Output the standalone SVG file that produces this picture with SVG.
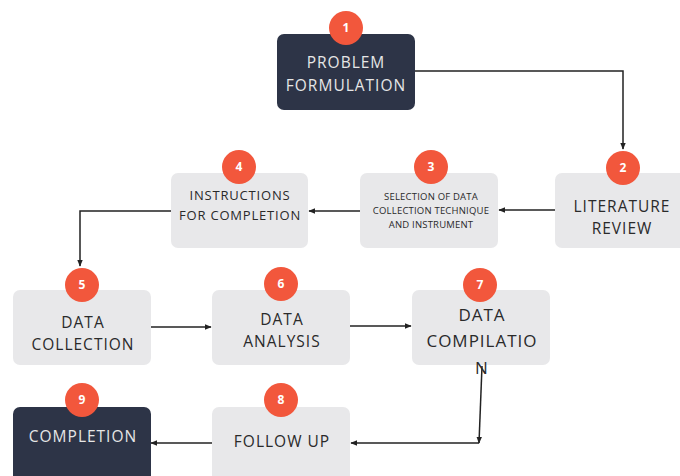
<svg xmlns="http://www.w3.org/2000/svg" width="680" height="476" viewBox="0 0 680 476">
<defs>
<marker id="ah" viewBox="0 0 10 10" refX="9" refY="5" markerWidth="7" markerHeight="7" orient="auto-start-reverse" markerUnits="userSpaceOnUse">
<path d="M0,1 L10,5 L0,9 Z" fill="#222"/>
</marker>
<style>
.lb{fill:#e8e8ea}
.dk{fill:#2d3447}
.bd{fill:#f2573c}
.num{font-family:"Open Sans","DejaVu Sans",sans-serif;font-size:12px;font-weight:bold;fill:#fff;text-anchor:middle}
.t{font-family:"Open Sans","DejaVu Sans",sans-serif;font-size:15.5px;letter-spacing:1px;fill:#2a2a2a;text-anchor:middle}
.tl{font-family:"Open Sans","DejaVu Sans",sans-serif;font-size:15.5px;letter-spacing:1px;fill:#e6e6e6;text-anchor:middle}
.ts{font-family:"Open Sans","DejaVu Sans",sans-serif;font-size:9.5px;letter-spacing:0.2px;fill:#2a2a2a;text-anchor:middle}
.tm{font-family:"Open Sans","DejaVu Sans",sans-serif;font-size:13px;letter-spacing:0.8px;fill:#2a2a2a;text-anchor:middle}
.c{fill:none;stroke:#222;stroke-width:1.5}
</style>
</defs>
<rect width="680" height="476" fill="#fff"/>
<g id="connectors">
<path class="c" d="M415,71 H623 V149" marker-end="url(#ah)"/>
<path class="c" d="M555,210 H499" marker-end="url(#ah)"/>
<path class="c" d="M360,211 H309" marker-end="url(#ah)"/>
<path class="c" d="M171,211 H80 V266" marker-end="url(#ah)"/>
<path class="c" d="M151,327 H211" marker-end="url(#ah)"/>
<path class="c" d="M350,326 H411" marker-end="url(#ah)"/>
<path class="c" d="M482,366 L479,443" marker-end="url(#ah)"/>
<path class="c" d="M479,443 H351" marker-end="url(#ah)"/>
<path class="c" d="M212,443 H151" marker-end="url(#ah)"/>
</g>
<g id="node1">
<rect class="dk" x="277" y="34" width="138" height="76" rx="7"/>
<text class="tl" x="346" y="68">PROBLEM</text>
<text class="tl" x="346" y="91">FORMULATION</text>
<circle class="bd" cx="346" cy="28" r="17"/>
<text class="num" x="346" y="32">1</text>
</g>
<g id="node2">
<rect class="lb" x="555" y="173" width="135" height="75" rx="7"/>
<text class="t" x="622" y="212">LITERATURE</text>
<text class="t" x="622" y="234">REVIEW</text>
<circle class="bd" cx="623" cy="168" r="17"/>
<text class="num" x="623" y="172">2</text>
</g>
<g id="node3">
<rect class="lb" x="360" y="173" width="138" height="75" rx="7"/>
<text class="ts" x="431" y="200">SELECTION OF DATA</text>
<text class="ts" x="431" y="214">COLLECTION TECHNIQUE</text>
<text class="ts" x="431" y="228">AND INSTRUMENT</text>
<circle class="bd" cx="431" cy="167" r="17"/>
<text class="num" x="431" y="171">3</text>
</g>
<g id="node4">
<rect class="lb" x="171" y="173" width="137" height="75" rx="7"/>
<text class="tm" x="240" y="200">INSTRUCTIONS</text>
<text class="tm" x="240" y="220">FOR COMPLETION</text>
<circle class="bd" cx="239" cy="167" r="17"/>
<text class="num" x="239" y="171">4</text>
</g>
<g id="node5">
<rect class="lb" x="13" y="290" width="138" height="75" rx="7"/>
<text class="t" x="83" y="328">DATA</text>
<text class="t" x="83" y="350">COLLECTION</text>
<circle class="bd" cx="82" cy="285" r="17"/>
<text class="num" x="82" y="289">5</text>
</g>
<g id="node6">
<rect class="lb" x="212" y="290" width="138" height="75" rx="7"/>
<text class="t" x="282" y="325">DATA</text>
<text class="t" x="282" y="347">ANALYSIS</text>
<circle class="bd" cx="281" cy="284" r="17"/>
<text class="num" x="281" y="288">6</text>
</g>
<g id="node7">
<rect class="lb" x="412" y="290" width="138" height="75" rx="7"/>
<text class="t" x="482" y="321" style="font-size:17px">DATA</text>
<text class="t" x="482" y="347" style="font-size:17px">COMPILATIO</text>
<text class="t" x="482" y="374" style="font-size:17px">N</text>
<circle class="bd" cx="480" cy="285" r="17"/>
<text class="num" x="480" y="289">7</text>
</g>
<g id="node8">
<rect class="lb" x="212" y="407" width="138" height="80" rx="7"/>
<text class="t" x="282" y="447">FOLLOW UP</text>
<circle class="bd" cx="281" cy="400" r="17"/>
<text class="num" x="281" y="404">8</text>
</g>
<g id="node9">
<rect class="dk" x="13" y="407" width="138" height="80" rx="7"/>
<text class="tl" x="83" y="442">COMPLETION</text>
<circle class="bd" cx="82" cy="400" r="17"/>
<text class="num" x="82" y="404">9</text>
</g>
</svg>
